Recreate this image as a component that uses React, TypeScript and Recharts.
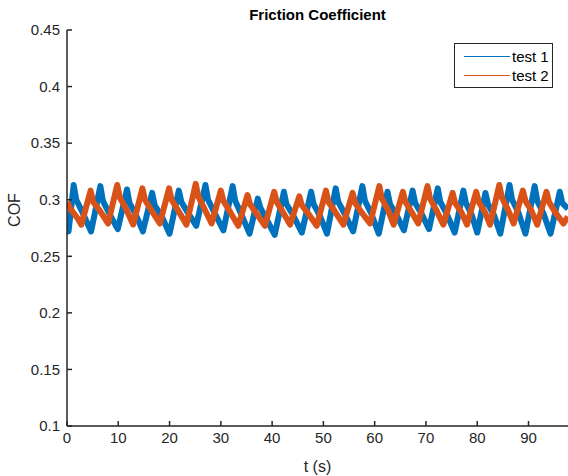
import { LineChart, Line, XAxis, YAxis } from "recharts";

// test 1 (blue) – peaks, post-spike, mid-descent and troughs
const test1Time = [
  0, 0.3, 1.3, 1.8, 3.0, 4.7, 6.5, 7.0, 8.2, 9.9, 11.7, 12.2, 13.4, 14.8, 16.6, 17.1, 18.4, 20.0,
  21.8, 22.3, 23.5, 25.2, 27.0, 27.5, 28.7, 30.5, 32.3, 32.8, 34.0, 35.6, 37.2, 37.7, 38.9, 40.5,
  42.3, 42.8, 44.0, 45.8, 47.6, 48.1, 49.3, 50.7, 52.4, 52.9, 54.1, 55.8, 57.6, 58.1, 59.3, 60.8,
  62.5, 63.0, 64.2, 65.7, 67.4, 67.9, 69.1, 70.6, 72.3, 72.8, 74.0, 75.6, 77.3, 77.8, 78.9, 80.0,
  81.6, 82.1, 83.3, 84.5, 86.3, 86.8, 88.0, 89.4, 91.2, 91.7, 92.9, 94.3, 96.1, 96.6, 97.7,
];
const test1Cof = [
  0.279, 0.272, 0.313, 0.300, 0.289, 0.272, 0.312, 0.299, 0.288, 0.274, 0.309, 0.297, 0.287, 0.272,
  0.306, 0.295, 0.286, 0.270, 0.308, 0.298, 0.289, 0.277, 0.313, 0.300, 0.289, 0.273, 0.312, 0.299,
  0.287, 0.270, 0.301, 0.293, 0.283, 0.269, 0.307, 0.296, 0.287, 0.271, 0.307, 0.296, 0.286, 0.270,
  0.310, 0.298, 0.288, 0.272, 0.312, 0.299, 0.288, 0.270, 0.307, 0.296, 0.287, 0.273, 0.308, 0.297,
  0.288, 0.274, 0.310, 0.298, 0.288, 0.271, 0.308, 0.297, 0.287, 0.271, 0.306, 0.296, 0.286, 0.270,
  0.313, 0.300, 0.289, 0.270, 0.312, 0.299, 0.288, 0.270, 0.307, 0.297, 0.292,
];

// test 2 (orange)
const test2Time = [
  0, 0.8, 2.0, 2.8, 4.6, 5.1, 6.3, 8.0, 9.8, 10.3, 11.5, 12.9, 14.7, 15.2, 16.4, 18.1, 19.9, 20.4,
  21.6, 23.3, 25.1, 25.6, 26.8, 28.2, 30.0, 30.5, 31.7, 33.4, 35.2, 35.7, 36.9, 38.6, 40.4, 40.9,
  42.1, 43.5, 45.3, 45.8, 47.0, 48.7, 50.5, 51.0, 52.2, 53.9, 55.7, 56.2, 57.4, 59.1, 60.9, 61.4,
  62.6, 63.7, 65.5, 66.0, 67.2, 68.5, 70.3, 70.8, 72.0, 73.4, 75.2, 75.7, 76.9, 78.0, 79.8, 80.3,
  81.5, 82.5, 84.3, 84.8, 86.0, 87.1, 88.9, 89.4, 90.6, 91.7, 93.5, 94.0, 95.2, 96.8, 97.7,
];
const test2Cof = [
  0.298, 0.291, 0.284, 0.278, 0.308, 0.298, 0.291, 0.279, 0.313, 0.302, 0.292, 0.278, 0.310, 0.300,
  0.291, 0.279, 0.310, 0.300, 0.291, 0.278, 0.314, 0.303, 0.292, 0.279, 0.308, 0.299, 0.290, 0.277,
  0.304, 0.296, 0.288, 0.277, 0.307, 0.298, 0.289, 0.278, 0.303, 0.295, 0.288, 0.277, 0.308, 0.298,
  0.290, 0.278, 0.306, 0.297, 0.289, 0.279, 0.312, 0.301, 0.291, 0.278, 0.307, 0.298, 0.289, 0.279,
  0.312, 0.301, 0.291, 0.278, 0.306, 0.297, 0.289, 0.278, 0.307, 0.298, 0.289, 0.278, 0.313, 0.302,
  0.291, 0.279, 0.308, 0.299, 0.290, 0.278, 0.307, 0.298, 0.289, 0.279, 0.285,
];

const xTicks = [0, 10, 20, 30, 40, 50, 60, 70, 80, 90];
const yTicks = [0.1, 0.15, 0.2, 0.25, 0.3, 0.35, 0.4, 0.45];
const seriesNames = ["test 1", "test 2"];
const seriesColors = ["#0072BD", "#D95319"];

const test1 = test1Time.map((t, i) => ({ t, cof: test1Cof[i] }));
const test2 = test2Time.map((t, i) => ({ t, cof: test2Cof[i] }));

const FONT = "'Liberation Sans', Arial, Helvetica, sans-serif";
const AXIS = "#262626";
const X_DOMAIN: [number, number] = [0, 97.7];
const Y_DOMAIN: [number, number] = [0.1, 0.45];

const fmtY = (v: number) => String(+v.toFixed(2));

// legend drawn as an overlay so it doesn't push the plot area down
function LegendBox() {
  return (
    <div
      style={{
        position: "absolute",
        left: 454,
        top: 43,
        width: 99,
        height: 45,
        border: "1px solid #262626",
        background: "#fff",
        fontFamily: FONT,
        fontSize: 15,
        color: "#000",
        boxSizing: "border-box",
        paddingTop: 3,
      }}
    >
      {seriesNames.map((name, i) => (
        <div key={name} style={{ display: "flex", alignItems: "center", height: 19 }}>
          <div style={{ width: 46, height: 1.5, background: seriesColors[i], marginLeft: 9, marginRight: 2 }} />
          <span>{name}</span>
        </div>
      ))}
    </div>
  );
}

export default function App() {
  return (
    <div style={{ position: "absolute", left: 0, top: 0, width: 568, height: 476, background: "#fff" }}>
      <div
        style={{
          position: "absolute",
          left: 67,
          width: 501,
          top: 6,
          textAlign: "center",
          fontFamily: FONT,
          fontWeight: "bold",
          fontSize: 15,
          color: "#000",
        }}
      >
        Friction Coefficient
      </div>
      <LineChart
        width={568}
        height={476}
        margin={{ top: 30, right: 0, bottom: 0, left: 0 }}
        style={{ fontFamily: FONT }}
      >
        <XAxis
          dataKey="t"
          type="number"
          domain={X_DOMAIN}
          ticks={xTicks}
          allowDataOverflow
          height={50}
          tickSize={-5}
          tickMargin={11}
          stroke={AXIS}
          strokeWidth={1.5}
          tick={{ fill: AXIS, fontSize: 15 }}
          label={{ value: "t (s)", position: "insideBottom", offset: 4, fill: AXIS, fontSize: 16 }}
        />
        <XAxis
          xAxisId="top"
          orientation="top"
          type="number"
          domain={X_DOMAIN}
          ticks={xTicks}
          allowDataOverflow
          height={0}
          tickSize={-5}
          tickFormatter={() => ""}
          stroke={AXIS}
          strokeWidth={1.5}
        />
        <YAxis
          type="number"
          domain={Y_DOMAIN}
          ticks={yTicks}
          allowDataOverflow
          width={67}
          tickSize={-5}
          tickMargin={12}
          tickFormatter={fmtY}
          stroke={AXIS}
          strokeWidth={1.5}
          tick={{ fill: AXIS, fontSize: 15 }}
          label={{
            content: () => (
              <text x={20} y={210} transform="rotate(-90 20 210)" textAnchor="middle" fill={AXIS} fontSize={16}>
                COF
              </text>
            ),
          }}
        />
        <YAxis
          yAxisId="right"
          orientation="right"
          type="number"
          domain={Y_DOMAIN}
          ticks={yTicks}
          allowDataOverflow
          width={0}
          tickSize={-5}
          tickFormatter={() => ""}
          stroke={AXIS}
          strokeWidth={1.5}
        />
        <Line
          data={test1}
          dataKey="cof"
          name={seriesNames[0]}
          stroke={seriesColors[0]}
          strokeWidth={6}
          strokeLinejoin="round"
          dot={false}
          isAnimationActive={false}
        />
        <Line
          data={test2}
          dataKey="cof"
          name={seriesNames[1]}
          stroke={seriesColors[1]}
          strokeWidth={6}
          strokeLinejoin="round"
          dot={false}
          isAnimationActive={false}
        />
      </LineChart>
      <LegendBox />
    </div>
  );
}
